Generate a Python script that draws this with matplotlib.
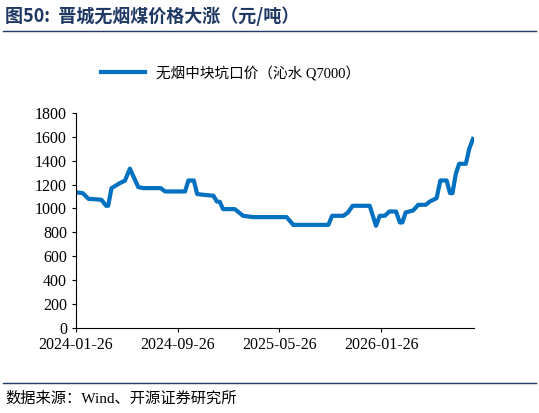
import matplotlib
matplotlib.use("Agg")
import matplotlib.pyplot as plt
import numpy as np
import datetime as dt

plt.rcParams['font.family'] = ['Liberation Serif', 'Noto Sans CJK SC']

# days since 2024-01-26, price (yuan/ton)
days = [2, 16, 30, 45, 61, 72, 77, 85, 105, 117, 129, 149, 161, 203, 213, 261, 269, 282,
        290, 305, 329, 337, 344, 352, 380, 400, 424, 504, 520, 604, 613, 640, 651, 662,
        703, 718, 727, 739, 750, 766, 775, 781, 789, 807, 819, 837, 847, 863, 872, 887,
        895, 901, 909, 917, 933, 941, 950]
price = [1134, 1128, 1080, 1077, 1072, 1022, 1022, 1170, 1212, 1232, 1333, 1179, 1170, 1170,
         1142, 1142, 1234, 1234, 1120, 1114, 1106, 1058, 1055, 994, 994, 938, 927, 927, 862,
         862, 938, 938, 966, 1022, 1022, 854, 938, 938, 974, 974, 882, 882, 966, 983, 1030,
         1030, 1058, 1086, 1234, 1234, 1128, 1128, 1290, 1374, 1374, 1498, 1582]
tick_labels = ["2024-01-26", "2024-09-26", "2025-05-26", "2026-01-26"]

start = dt.date(2024, 1, 26)
x = [start + dt.timedelta(days=d) for d in days]
ticks = [dt.date.fromisoformat(s) for s in tick_labels]

fig = plt.figure(figsize=(5.39, 4.13), dpi=100)
ax = fig.add_axes([0.141, 0.2065, 0.738, 0.52])
ax.plot(x, price, color="#0070C0", lw=3, label="无烟中块坑口价（沁水 Q7000）")
ax.set_xlim(start, start + dt.timedelta(days=952))
ax.set_ylim(0, 1800)
ax.set_yticks(np.arange(0, 1801, 200))
ax.set_xticks(ticks)
ax.set_xticklabels(tick_labels)
ax.tick_params(labelsize=11.5, direction="out", length=3)
ax.spines["top"].set_visible(False)
ax.spines["right"].set_visible(False)
ax.legend(loc="lower left", bbox_to_anchor=(0.03, 1.09), frameon=False,
          fontsize=10.5, handlelength=3)

fig.text(0.01, 0.96, "图50:  晋城无烟煤价格大涨（元/吨）", color="#1F3864",
         fontsize=13, fontweight="bold", va="center",
         family=['Noto Sans CJK SC', 'Liberation Serif'])
fig.add_artist(plt.Line2D([0.005, 0.995], [0.925, 0.925], color="#1F3864", lw=1))
fig.add_artist(plt.Line2D([0.005, 0.995], [0.073, 0.073], color="#1F3864", lw=1))
fig.text(0.01, 0.035, "数据来源：Wind、开源证券研究所", fontsize=11, va="center")

fig.savefig("out.png")
